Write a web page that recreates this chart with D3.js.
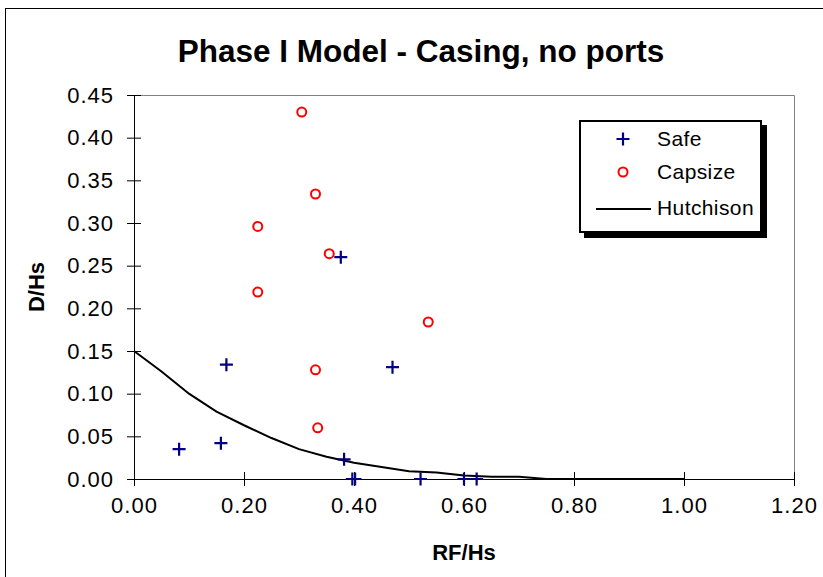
<!DOCTYPE html>
<html><head><meta charset="utf-8">
<script src="https://cdn.jsdelivr.net/npm/d3@7"></script>
<style>body{margin:0;background:#fff}svg{display:block}text{font-family:"Liberation Sans",Arial,sans-serif}</style>
</head><body>
<script>
const safeX = [0.082, 0.158, 0.168, 0.376, 0.470, 0.382, 0.397, 0.402, 0.521, 0.600, 0.623];
const safeY = [0.035, 0.042, 0.134, 0.260, 0.131, 0.023, 0, 0, 0, 0, 0];
const capX = [0.305, 0.330, 0.225, 0.355, 0.225, 0.535, 0.330, 0.334];
const capY = [0.430, 0.334, 0.296, 0.264, 0.219, 0.184, 0.128, 0.060];
const hutX = [0, 0.05, 0.10, 0.15, 0.20, 0.25, 0.30, 0.35, 0.40, 0.45, 0.50, 0.55, 0.60, 0.65, 0.70, 0.75, 0.80, 0.85, 0.90, 0.95, 1.00];
const hutY = [0.150, 0.126, 0.100, 0.079, 0.063, 0.048, 0.035, 0.026, 0.019, 0.014, 0.009, 0.0075, 0.004, 0.0025, 0.0025, 0, 0, 0, 0, 0, 0];
const xTicks = [0, 0.2, 0.4, 0.6, 0.8, 1.0, 1.2];
const yTicks = [0, 0.05, 0.10, 0.15, 0.20, 0.25, 0.30, 0.35, 0.40, 0.45];
const legendLabels = ["Safe", "Capsize", "Hutchison"];

const W = 823, H = 577;
const svg = d3.select("body").append("svg").attr("width", W).attr("height", H);
svg.append("rect").attr("x", 5.5).attr("y", 8.5).attr("width", 840).attr("height", 600)
  .attr("fill", "#fff").attr("stroke", "#000").attr("stroke-width", 1);

const x = d3.scaleLinear().domain([0, 1.2]).range([134, 794]);
const y = d3.scaleLinear().domain([0, 0.45]).range([479, 95]);

svg.append("path").attr("d", `M${x(0)},${y(0.45)+0.5}H${x(1.2)+0.5}V${y(0)}`)
  .attr("fill", "none").attr("stroke", "#808080").attr("stroke-width", 1);

svg.append("text").attr("x", 421).attr("y", 62).attr("text-anchor", "middle")
  .attr("font-weight", "bold").attr("font-size", 31.5).text("Phase I Model - Casing, no ports");

const xAxis = svg.append("g").attr("transform", `translate(0,${y(0)})`)
  .call(d3.axisBottom(x).tickValues(xTicks).tickFormat(d3.format(".2f")).tickSizeInner(7).tickSizeOuter(0).tickPadding(11));
xAxis.selectAll(".tick line").attr("y1", -7);
const yAxis = svg.append("g").attr("transform", `translate(${x(0)},0)`)
  .call(d3.axisLeft(y).tickValues(yTicks).tickFormat(d3.format(".2f")).tickSizeInner(7).tickSizeOuter(0).tickPadding(13));
yAxis.selectAll(".tick line").attr("x1", 7);
svg.selectAll(".domain").attr("stroke", "#000");
svg.selectAll(".tick line").attr("stroke", "#000");
svg.selectAll(".tick text").attr("font-size", 22).attr("fill", "#000").attr("letter-spacing", 1)
  .style("font-family", '"Liberation Sans",Arial,sans-serif');

svg.append("text").attr("x", 464).attr("y", 560).attr("text-anchor", "middle")
  .attr("font-weight", "bold").attr("font-size", 22).text("RF/Hs");
svg.append("text").attr("transform", "translate(44,287) rotate(-90)").attr("text-anchor", "middle")
  .attr("font-weight", "bold").attr("font-size", 22).text("D/Hs");

const hut = hutX.map((v, i) => [v, hutY[i]]);
svg.append("path").datum(hut)
  .attr("d", d3.line().x(d => x(d[0])).y(d => y(d[1])))
  .attr("fill", "none").attr("stroke", "#000").attr("stroke-width", 2);

function plus(g, cx, cy) {
  g.append("path").attr("d", `M${cx-6.5},${cy}H${cx+6.5}M${cx},${cy-6.5}V${cy+6.5}`)
    .attr("stroke", "#000080").attr("stroke-width", 2.2).attr("fill", "none");
}
const safeG = svg.append("g");
safeX.forEach((v, i) => plus(safeG, x(v), y(safeY[i])));
svg.append("g").selectAll("circle").data(capX).join("circle")
  .attr("cx", d => x(d)).attr("cy", (d, i) => y(capY[i])).attr("r", 4.5)
  .attr("fill", "none").attr("stroke", "#ff0000").attr("stroke-width", 2);

const lg = svg.append("g");
lg.append("rect").attr("x", 584).attr("y", 125).attr("width", 183).attr("height", 113).attr("fill", "#000");
lg.append("rect").attr("x", 580).attr("y", 121).attr("width", 181).attr("height", 111)
  .attr("fill", "#fff").attr("stroke", "#000").attr("stroke-width", 2);
plus(lg, 623, 139);
lg.append("circle").attr("cx", 623).attr("cy", 172).attr("r", 4.5).attr("fill", "none").attr("stroke", "#ff0000").attr("stroke-width", 2);
lg.append("line").attr("x1", 596).attr("x2", 651).attr("y1", 209).attr("y2", 209).attr("stroke", "#000").attr("stroke-width", 2);
const ly = [139, 172, 208];
legendLabels.forEach((t, i) => lg.append("text").attr("x", 657).attr("y", ly[i]).attr("dy", "0.35em")
  .attr("font-size", 21).attr("letter-spacing", 0.4).text(t));
</script>
</body></html>
